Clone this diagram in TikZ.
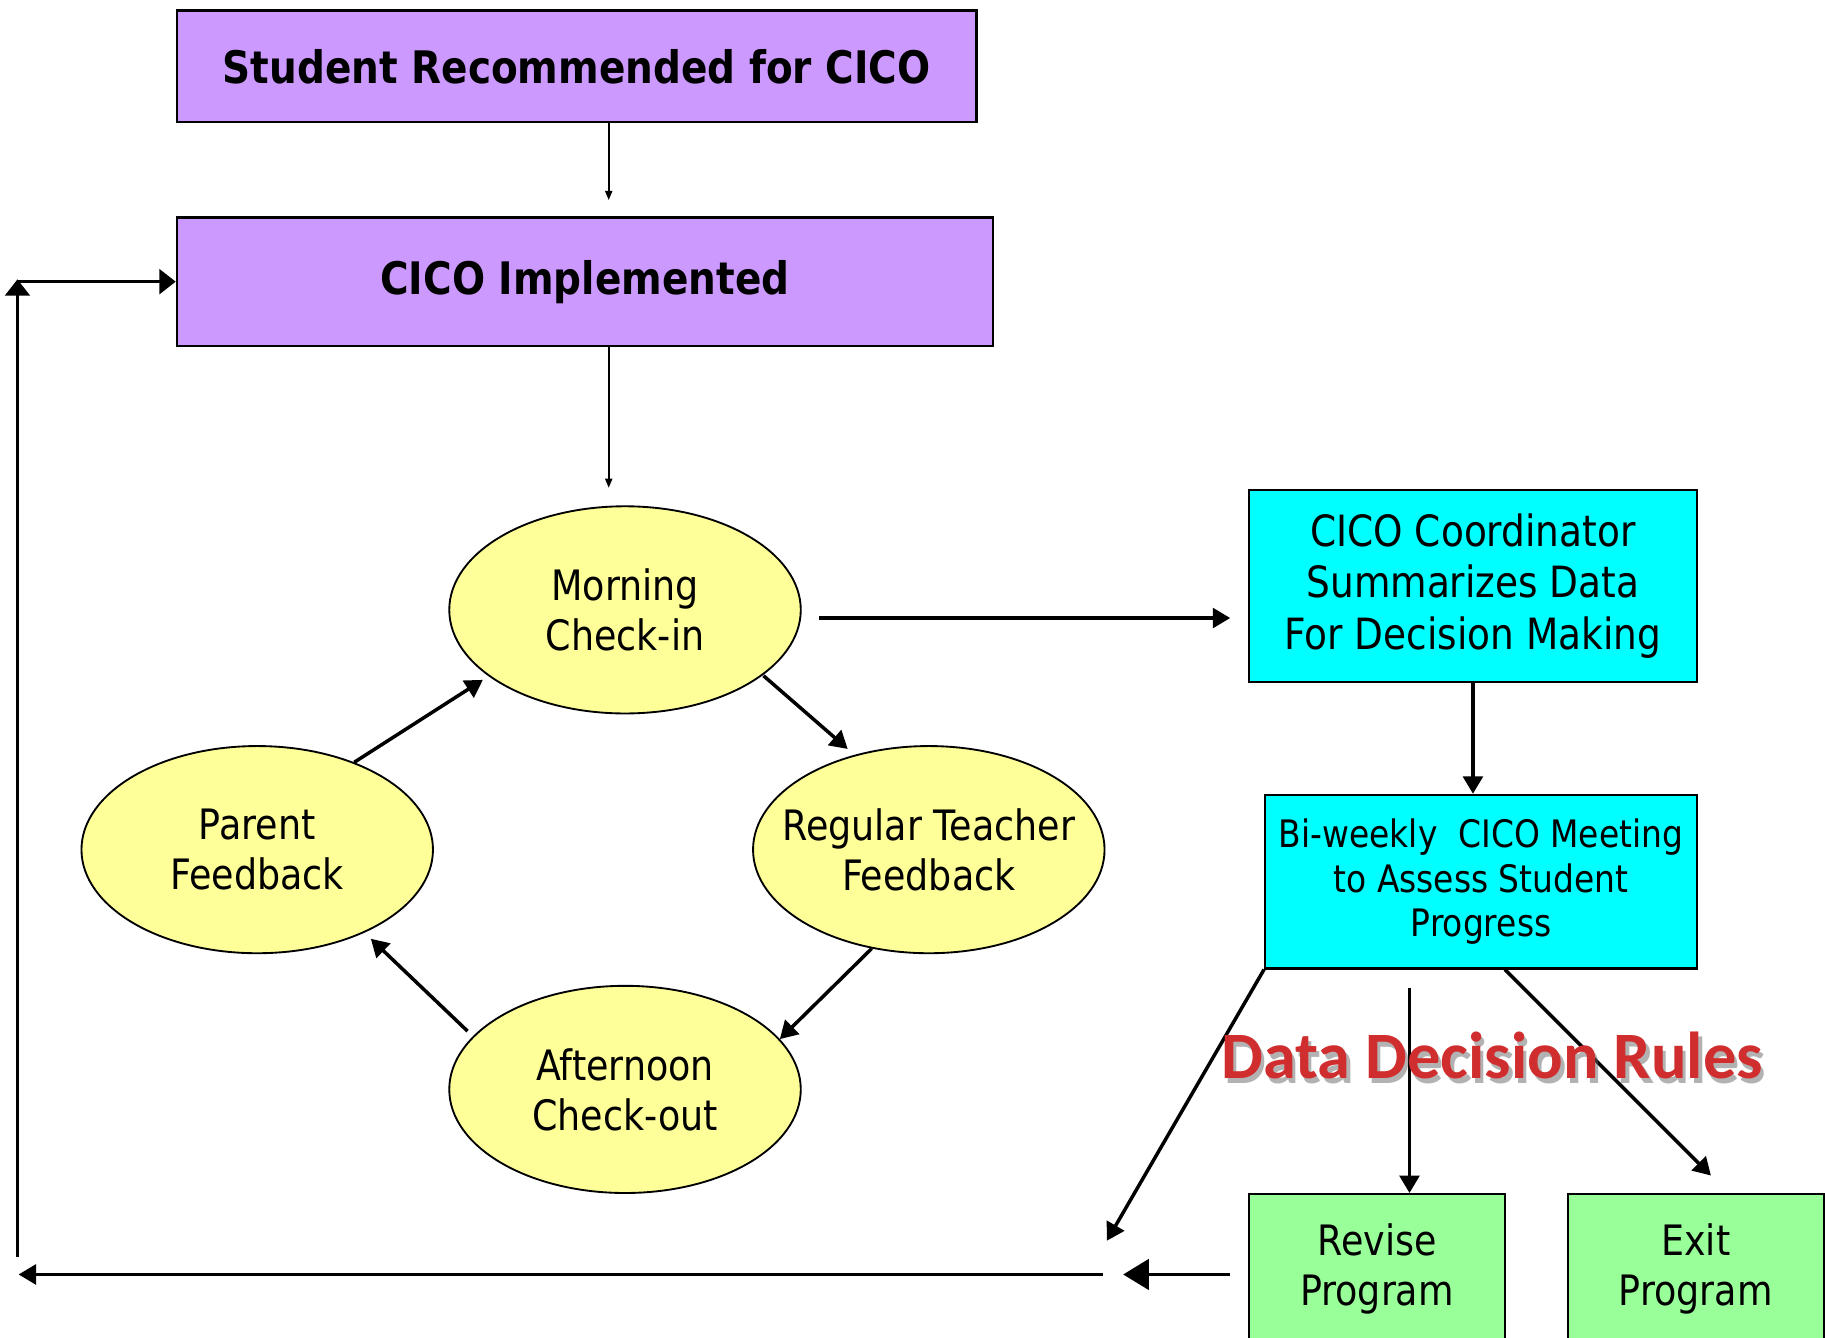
\documentclass[tikz,border=0pt]{standalone}
\usepackage{fontspec}
\usepackage{tikz}
\usetikzlibrary{calc,positioning,shapes.geometric,arrows.meta}
\newfontfamily\tahoma[FakeStretch=0.87]{DejaVu Sans}
\newfontfamily\calibri{Carlito}
\begin{document}
\begin{tikzpicture}[x=1pt,y=1pt,
  topbox/.style={draw=black,line width=2pt,fill=violetFill,inner sep=0pt,
    font=\tahoma\bfseries\fontsize{38.5}{46}\selectfont},
  loopnode/.style={ellipse,draw=black,line width=1.6pt,fill=yellowFill,inner ysep=0pt,inner xsep=-20pt,
    minimum width=302,minimum height=178,align=center,font=\tahoma\fontsize{36}{43}\selectfont},
  databox/.style={draw=black,line width=2pt,fill=cyanFill,inner sep=0pt,align=center},
  exitbox/.style={draw=black,line width=2pt,fill=greenFill,inner sep=0pt,align=center,
    minimum width=220,minimum height=128,font=\tahoma\fontsize{36}{43}\selectfont},
  arr/.style={-{Triangle[length=15pt,width=17pt]},line width=3pt},
  cornerarr/.style={-{Triangle[length=14pt,width=21pt]},line width=3pt},
  bigarr/.style={-{Triangle[length=22pt,width=26pt]},line width=3pt},
  thinarr/.style={-{Triangle[length=8pt,width=6pt]},line width=1.8pt}]
\definecolor{violetFill}{RGB}{204,153,255}
\definecolor{yellowFill}{RGB}{255,255,153}
\definecolor{cyanFill}{RGB}{0,255,255}
\definecolor{greenFill}{RGB}{153,255,153}
\definecolor{ruleRed}{RGB}{208,46,46}
\path[use as bounding box,fill=white] (0,0) rectangle (1568,1149);

\node[topbox,minimum width=687,minimum height=96] (recommended) at (495.5,1092) {Student Recommended for CICO};
\node[topbox,minimum width=701,minimum height=110] (implemented) at (502.5,907) {CICO Implemented};

\node[loopnode] (morning) at (537,625) {Morning\\Check-in};
\node[loopnode] (parent) at (221,419) {Parent\\Feedback};
\node[loopnode] (teacher) at (798,419) {Regular Teacher\\Feedback};
\node[loopnode] (afternoon) at (537,213) {Afternoon\\Check-out};

\node[databox,minimum width=385,minimum height=165,font=\tahoma\fontsize{37}{44}\selectfont] (coordinator) at (1265.5,645.5) {CICO Coordinator\\Summarizes Data\\For Decision Making};
\node[databox,minimum width=371,minimum height=149,font=\tahoma\fontsize{32.5}{38}\selectfont] (meeting) at (1272.5,391.5) {Bi-weekly\ \ CICO Meeting\\to Assess Student\\Progress};

\node[exitbox] (revise) at (1183,59) {Revise\\Program};
\node[exitbox] (exit) at (1457,59) {Exit\\Program};

\coordinate (otherwise) at (951,83);
\coordinate (gap) at (965,54);
\coordinate (returnR) at (948,54);
\coordinate (returnL) at (16,54);
\coordinate (upB) at (15,69);
\coordinate (upT) at (15,909);
\coordinate (corner) at (15,907);

\draw[thinarr] ($(recommended.south)+(27.5,0)$) -- ($(implemented.north)+(20.5,14)$);
\draw[thinarr] ($(implemented.south)+(20.5,0)$) -- ($(morning.north)+(-14,15)$);

\draw[arr] ($(morning.-27)+(4,2)$) -- ($(teacher.128)+(-6,5)$);
\draw[arr] (teacher.240) -- (afternoon.18);
\draw[arr] ($(afternoon.160)+(-6,3)$) -- ($(parent.-38)+(6,-5)$);
\draw[arr] (parent.42) -- ($(morning.206)+(-5,-3)$);

\draw[arr] ($(morning.east)+(15,-7)$) -- ($(morning.east -| coordinator.west)+(-15,-7)$);
\draw[arr] (coordinator.south) -- (coordinator.south |- meeting.north);

\draw[arr] (meeting.south west) -- (otherwise);
\draw[arr] ($(meeting.south)+(-61.5,-16)$) -- ($(revise.north)+(28,0)$);
\draw[arr] ($(meeting.south)+(20.5,0)$) -- ($(exit.north)+(13,15)$);

\draw[bigarr] ($(revise.west)+(-15,-5)$) -- (gap);
\draw[arr] (returnR) -- (returnL);
\draw[cornerarr] (upB) -- (upT);
\draw[cornerarr] (corner) -- (implemented.west);

\node[text=black!60,opacity=0.5,font=\calibri\bfseries\fontsize{57}{68}\selectfont] (rulesShadow) at (1285,238) {Data Decision Rules};
\node[text=ruleRed,font=\calibri\bfseries\fontsize{57}{68}\selectfont] (rules) at (1282,242) {Data Decision Rules};
\end{tikzpicture}
\end{document}
